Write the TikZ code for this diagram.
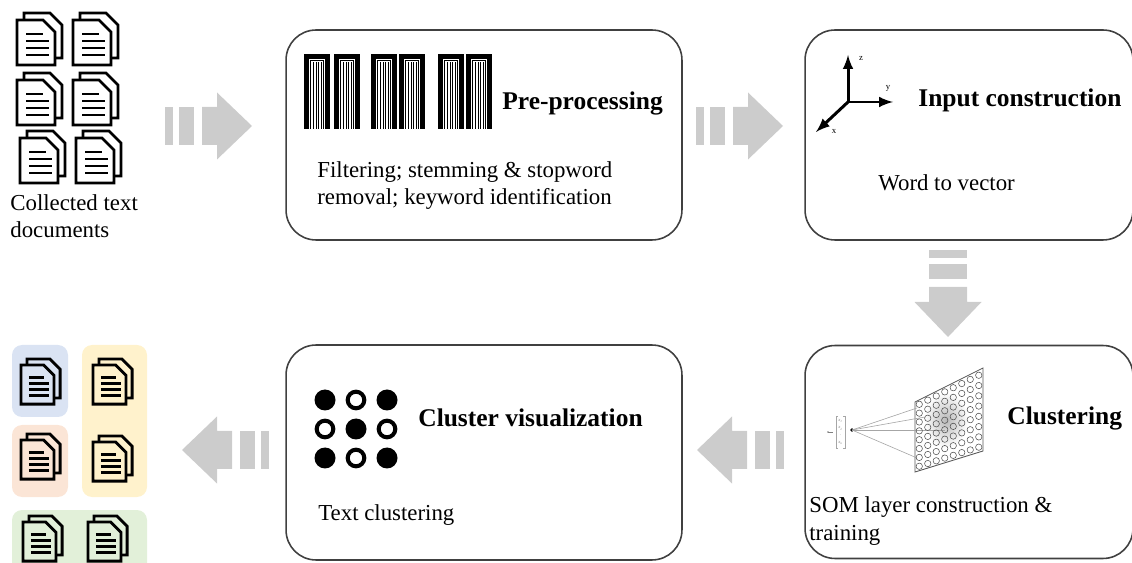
\documentclass[tikz,border=0pt]{standalone}
\usepackage{fontspec}
\setmainfont{Liberation Serif}
\usetikzlibrary{arrows}

\definecolor{boxgray}{HTML}{404040}
\definecolor{flowgray}{HTML}{CCCCCC}
\definecolor{clublue}{HTML}{DAE3F3}
\definecolor{clupeach}{HTML}{FBE5D6}
\definecolor{cluyellow}{HTML}{FFF2CC}
\definecolor{clugreen}{HTML}{E2F0D9}

\begin{document}
\begin{tikzpicture}[x=0.02cm, y=-0.02cm, font=\fontsize{13}{15.5}\selectfont]
    \tikzstyle{box_round} = [draw=boxgray, line width=0.9pt, rounded corners=0.6cm, inner sep=0]
    \tikzstyle{title_text} = [anchor=west, inner sep=0, font={\fontsize{14.5}{17}\selectfont\bfseries}]
    \tikzstyle{body_text} = [anchor=west, inner sep=0, align=left]
    \tikzstyle{flow_part} = [fill=flowgray, draw=none]
    \tikzstyle{doc_line} = [draw=black, line width=1.6pt]
    \tikzstyle{axis_black} = [->, black, line width=1.7pt, >=latex]
    \tikzstyle{tiny_text} = [inner sep=0, font=\fontsize{5}{5}\selectfont]

    \useasboundingbox (0,0) rectangle (1132,563);

    % ---------------------------------------
    % stage boxes

    \node[box_round, minimum width=7.92cm, minimum height=4.2cm] (pre) at (484,135) {};
    \node[box_round, minimum width=6.56cm, minimum height=4.2cm] (inp) at (969,135) {};
    \node[box_round, minimum width=6.56cm, minimum height=4.26cm] (clu) at (969,452) {};
    \node[box_round, minimum width=7.92cm, minimum height=4.3cm] (vis) at (484,452.5) {};

    % ---------------------------------------
    % grey flow arrows (x / y / direction)

    \foreach \ax/\ay/\rot in {165/126/0, 696/126/0, 948/250/-90, 269/450/180, 784/450/180} {
        \begin{scope}[shift={(\ax,\ay)}, rotate=\rot]
            \fill[flow_part] (0,-19) rectangle (8,19);
            \fill[flow_part] (14,-19) rectangle (29,19);
            \fill[flow_part] (37,-19) -- (52,-19) -- (52,-33.5) -- (87,0) -- (52,33.5) -- (52,19) -- (37,19) -- cycle;
        \end{scope}
    }

    % ---------------------------------------
    % coloured groups of clustered documents

    \fill[clublue, rounded corners=0.2cm] (12,345) rectangle (68,417);
    \fill[clupeach, rounded corners=0.2cm] (12,425) rectangle (68,497);
    \fill[cluyellow, rounded corners=0.2cm] (82,345) rectangle (147,497);
    \fill[clugreen, rounded corners=0.2cm] (12,510) rectangle (147,580);

    % document icons: x / y / size / paper colour
    \foreach \dx/\dy/\ds/\dc in {17/20/1/white, 73/20/1/white, 17/80/1/white, 73/80/1/white,
            20/138/1/white, 76/138/1/white, 21/365/0.87/clublue, 93/365/0.87/cluyellow,
            21/440/0.87/clupeach, 93/442/0.87/cluyellow, 23/522/0.87/clugreen, 88/522/0.87/clugreen} {
        \begin{scope}[shift={(\dx,\dy)}, scale=\ds]
            \draw[doc_line] (7,0) -- (7,-7) -- (33,-7) -- (45,5) -- (45,38) -- (38,38);
            \draw[doc_line, fill=\dc] (0,0) -- (26,0) -- (38,12) -- (38,45) -- (0,45) -- cycle;
            \draw[doc_line] (9,14) -- (26,14) (9,21) -- (32,21) (9,28) -- (32,28) (9,35) -- (32,35);
        \end{scope}
    }

    \node[body_text] (docs) at (10,216) {Collected text\\documents};

    % ---------------------------------------
    % pre-processing: token strips

    \foreach \bx in {304, 334, 371, 399, 438, 466} {
        \fill[black] (\bx,54) rectangle (\bx+26,129);
        \fill[white] (\bx+5,59) rectangle (\bx+21,129);
        \draw[black, line width=0.35pt] (\bx+6.5,129) -- (\bx+6.5,60.5) -- (\bx+19.5,60.5) -- (\bx+19.5,129);
        \foreach \k in {9.5, 12, 14.5, 17}
            \draw[black, line width=0.35pt] (\bx+\k,62) -- (\bx+\k,129);
    }

    \node[title_text] (pre_title) at (502,103) {Pre-processing};
    \node[body_text] (pre_text) at (317,185.5) {Filtering; stemming \& stopword\\removal; keyword identification};

    % ---------------------------------------
    % input construction: axes

    \coordinate (ax_o) at (848,102);
    \draw[axis_black] (ax_o) -- (848,55);
    \draw[axis_black] (ax_o) -- (893,102);
    \draw[axis_black] (ax_o) -- (816,132);
    \node[tiny_text] at (861,58) {z};
    \node[tiny_text] at (888,88) {y};
    \node[tiny_text] at (834,131) {x};

    \node[title_text] (inp_title) at (918,100) {Input construction};
    \node[body_text] (inp_text) at (878,183) {Word to vector};

    % ---------------------------------------
    % clustering: SOM layer

    \draw[gray!70!black, line width=0.5pt, fill=white] (915,402) -- (983,368) -- (983,451) -- (915,472) -- cycle;
    \shade[inner color=gray!55, outer color=white] (946,420) ellipse (22 and 28);

    % input vector
    \draw[gray!70, line width=0.3pt] (838,416) -- (836,416) -- (836,448) -- (838,448);
    \draw[gray!70, line width=0.3pt] (843,416) -- (845,416) -- (845,448) -- (843,448);
    \node[inner sep=0, align=center, gray, font=\fontsize{2.6}{4.2}\selectfont\itshape] (vec) at (840.5,432)
        {x\textsubscript{1}\\x\textsubscript{2}\\.\\x\textsubscript{n}};
    \draw[gray, line width=0.3pt] (828,432) -- (833,432);
    \fill[gray] (828,432) circle (0.8);

    \fill (852,430) circle (1.8);
    \foreach \lx/\ly in {917/408, 925/417, 945/430, 917/458}
        \draw[gray!70, line width=0.35pt] (852,430) -- (\lx,\ly);

    \foreach \u in {0,...,7} {
        \foreach \v in {0,...,7} {
            \pgfmathsetmacro\gu{(\u+0.5)/8}
            \pgfmathsetmacro\gv{(\v+0.5)/8}
            \pgfmathsetmacro\gx{915+68*\gu}
            \pgfmathsetmacro\gy{(1-\gu)*(402+70*\gv)+\gu*(368+83*\gv)}
            \draw[gray!60!black, line width=0.3pt] (\gx,\gy) circle (3.2);
        }
    }

    \node[title_text] (clu_title) at (1007,418) {Clustering};
    \node[body_text] (clu_text) at (809,521) {SOM layer construction \&\\training};

    % ---------------------------------------
    % cluster visualization: dots

    \foreach \cx/\cy in {325/400, 387/400, 356/429, 325/458, 387/458}
        \fill (\cx,\cy) circle (10.5);
    \foreach \cx/\cy in {356/400, 325/429, 387/429, 356/458}
        \draw[line width=2.3pt] (\cx,\cy) circle (8.3);

    \node[title_text] (vis_title) at (418,418) {Cluster visualization};
    \node[body_text] (vis_text) at (318,515) {Text clustering};

\end{tikzpicture}
\end{document}
